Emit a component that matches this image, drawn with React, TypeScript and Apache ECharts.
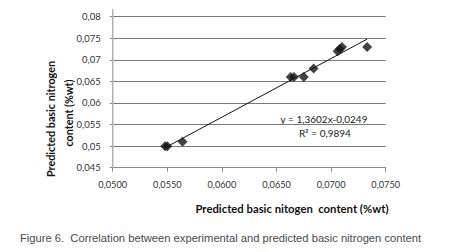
import React, { useEffect, useRef } from "react";
import * as echarts from "echarts";

const experimentalX = [0.0548, 0.055, 0.0564, 0.0663, 0.0666, 0.0675, 0.0684, 0.0706, 0.0708, 0.071, 0.0733];
const predictedY = [0.05, 0.05, 0.051, 0.066, 0.066, 0.066, 0.068, 0.072, 0.0725, 0.073, 0.073];
const trendSlope = 1.3602;
const trendIntercept = -0.0249;
const equationLabel = "y = 1,3602x-0,0249";
const r2Label = "R² = 0,9894";
const xTitle = "Predicted basic nitogen  content (%wt)";
const yTitleLines = ["Predicted basic nitrogen", "content (%wt)"];
const caption = "Figure 6.  Correlation between experimental and predicted basic nitrogen content";

const GRID_LEFT = 112.7;
const GRID_TOP = 16.7;
const GRID_W = 273;
const GRID_H = 151;

export default function App() {
  const ref = useRef<HTMLDivElement>(null);
  useEffect(() => {
    if (!ref.current) return;
    const chart = echarts.init(ref.current, undefined, { renderer: "svg" });
    const xMin = Math.min(...experimentalX);
    const xMax = Math.max(...experimentalX);
    const trend = [
      [xMin, trendSlope * xMin + trendIntercept],
      [xMax, trendSlope * xMax + trendIntercept],
    ];
    const font = "Lato, 'Open Sans', sans-serif";
    chart.setOption({
      animation: false,
      backgroundColor: "#fff",
      grid: { left: GRID_LEFT, top: GRID_TOP, width: GRID_W, height: GRID_H },
      xAxis: {
        type: "value",
        min: 0.05,
        max: 0.075,
        interval: 0.005,
        axisLine: { show: true, lineStyle: { color: "#8a8a8a", width: 1 } },
        axisTick: { show: true, length: 4, lineStyle: { color: "#8a8a8a" } },
        splitLine: { show: false },
        axisLabel: {
          color: "#333",
          fontFamily: font,
          fontSize: 9.2,
          margin: 12,
          formatter: (v: number) => v.toFixed(4).replace(".", ","),
        },
      },
      yAxis: {
        type: "value",
        min: 0.045,
        max: 0.08,
        interval: 0.005,
        axisLine: { show: false },
        axisTick: { show: true, length: 3, lineStyle: { color: "#8a8a8a" } },
        splitLine: { show: true, lineStyle: { color: "#7a7a7a", width: 1 } },
        axisLabel: {
          color: "#333",
          fontFamily: font,
          fontSize: 9.5,
          margin: 12,
          formatter: (v: number) => String(Number(v.toFixed(3))).replace(".", ","),
        },
      },
      series: [
        {
          type: "line",
          data: trend,
          symbol: "none",
          lineStyle: { color: "#111", width: 1 },
          z: 2,
        },
        {
          type: "scatter",
          data: experimentalX.map((x, i) => [x, predictedY[i]]),
          symbol: "diamond",
          symbolSize: 10,
          itemStyle: { color: "#151515" },
          z: 3,
        },
      ],
      graphic: [
        {
          type: "line",
          shape: { x1: GRID_LEFT, y1: 9, x2: GRID_LEFT, y2: GRID_TOP + GRID_H },
          style: { stroke: "#b0b0b0", lineWidth: 1.5 },
          z: 10,
        },
        {
          type: "text",
          x: 324,
          y: 119,
          style: { text: equationLabel, font: `10px ${font}`, fill: "#222", textAlign: "center", textVerticalAlign: "middle" },
        },
        {
          type: "text",
          x: 325,
          y: 132.5,
          style: { text: r2Label, font: `10px ${font}`, fill: "#222", textAlign: "center", textVerticalAlign: "middle" },
        },
        {
          type: "text",
          x: 292,
          y: 208,
          style: { text: xTitle, font: `bold 11.3px ${font}`, fill: "#111", textAlign: "center", textVerticalAlign: "middle" },
        },
        {
          type: "text",
          x: 50,
          y: 119,
          rotation: Math.PI / 2,
          style: { text: yTitleLines[0], font: `bold 10.8px ${font}`, fill: "#111", textAlign: "center", textVerticalAlign: "middle" },
        },
        {
          type: "text",
          x: 68,
          y: 113,
          rotation: Math.PI / 2,
          style: { text: yTitleLines[1], font: `bold 10.8px ${font}`, fill: "#111", textAlign: "center", textVerticalAlign: "middle" },
        },
        {
          type: "text",
          x: 20,
          y: 238,
          style: { text: caption, font: `11.2px 'Liberation Sans', Arial, sans-serif`, fill: "#4a4a4a", textAlign: "left", textVerticalAlign: "middle" },
        },
      ],
    });
    return () => chart.dispose();
  }, []);
  return <div ref={ref} style={{ position: "fixed", left: 0, top: 0, width: 450, height: 252 }} />;
}
